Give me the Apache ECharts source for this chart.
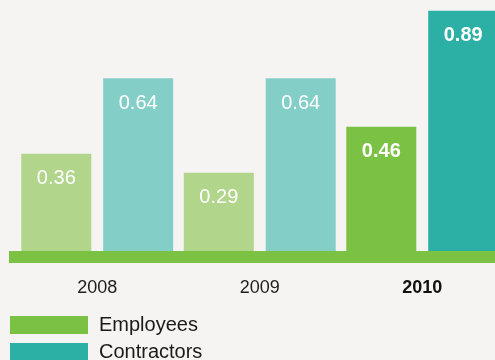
<!DOCTYPE html>
<html>
<head>
<meta charset="utf-8">
<script src="https://cdn.jsdelivr.net/npm/echarts@6/dist/echarts.min.js"></script>
<style>
  html, body { margin: 0; padding: 0; background: #f6f4f2; overflow: hidden; }
  /* the plot runs slightly past the right edge of the page, cutting the last bar */
  #chart { width: 510px; height: 360px; }
</style>
</head>
<body>
<div id="chart"></div>
<script>
// Injury frequency by year, employees vs contractors
const years = ['2008', '2009', '2010'];
const employees = [0.36, 0.29, 0.46];
const contractors = [0.64, 0.64, 0.89];
const seriesNames = ['Employees', 'Contractors'];
const highlightYear = '2010';

const FONT = '"Liberation Sans", Arial, Helvetica, sans-serif';
const colors = {
  employees: '#7bc143',
  employeesLight: '#b0d58b',
  contractors: '#2cafa4',
  contractorsLight: '#83cfc8'
};

// Past years are drawn in a lighter tint; the current year is full colour, bold label
function styled(values, full, light) {
  return values.map((v, i) => {
    const current = years[i] === highlightYear;
    return {
      value: v,
      itemStyle: { color: current ? full : light },
      label: { fontWeight: current ? 'bold' : 'normal' }
    };
  });
}

const chart = echarts.init(document.getElementById('chart'));

const valueLabel = {
  show: true,
  position: 'insideTop',
  distance: 15,
  color: '#ffffff',
  fontFamily: FONT,
  fontSize: 20,
  formatter: p => p.value.toFixed(2)
};

const legendText = {
  fontFamily: FONT,
  fontSize: 20,
  color: '#1a1a1a',
  padding: [0, 0, 0, 6]
};

chart.setOption({
  backgroundColor: '#f6f4f2',
  animation: false,
  grid: { left: 16, top: 0, width: 487.5, height: 251, containLabel: false },
  xAxis: {
    type: 'category',
    data: years,
    axisLine: { show: false },
    axisTick: { show: false },
    axisLabel: {
      margin: 28,
      fontFamily: FONT,
      fontSize: 18,
      color: '#1e1e1e',
      formatter: v => v === highlightYear ? '{b|' + v + '}' : v,
      rich: { b: { fontFamily: FONT, fontSize: 18, fontWeight: 'bold', color: '#111' } }
    }
  },
  yAxis: {
    type: 'value',
    min: 0,
    max: 0.93,
    show: false,
    splitLine: { show: false }
  },
  legend: [
    {
      left: 10, top: 315, padding: 0,
      itemWidth: 78, itemHeight: 18, icon: 'rect',
      data: [seriesNames[0]],
      textStyle: legendText
    },
    {
      left: 10, top: 342, padding: 0,
      itemWidth: 78, itemHeight: 18, icon: 'rect',
      data: [seriesNames[1]],
      textStyle: legendText
    }
  ],
  series: [
    {
      name: seriesNames[0],
      type: 'bar',
      barWidth: 70,
      barGap: '17%',
      itemStyle: { color: colors.employees },
      label: valueLabel,
      data: styled(employees, colors.employees, colors.employeesLight)
    },
    {
      name: seriesNames[1],
      type: 'bar',
      barWidth: 70,
      barGap: '17%',
      itemStyle: { color: colors.contractors },
      label: valueLabel,
      data: styled(contractors, colors.contractors, colors.contractorsLight)
    }
  ],
  graphic: [
    {
      // baseline strip under the bars
      type: 'rect',
      left: 9,
      top: 251,
      z: 100,
      shape: { width: 501, height: 12 },
      style: { fill: colors.employees }
    }
  ]
});
</script>
</body>
</html>
